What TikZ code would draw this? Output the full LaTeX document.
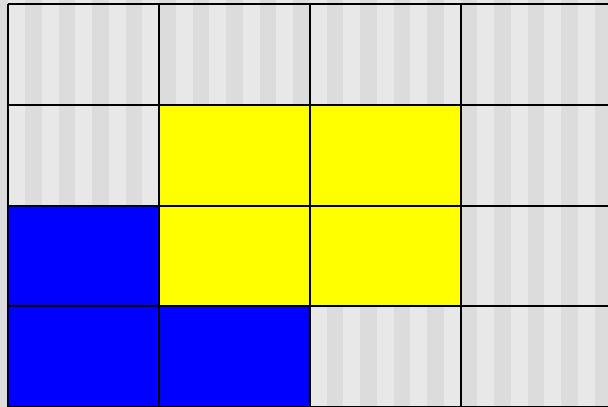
\documentclass[tikz,border=0pt]{standalone}
\usepackage{tikz}
\definecolor{stripelight}{HTML}{E8E8E8}
\definecolor{stripedark}{HTML}{DCDCDC}
\definecolor{hotyellow}{HTML}{FFFF00}
\definecolor{coldblue}{HTML}{0000FF}
\tikzset{
  gridline/.style={draw=black,line width=2pt},
  hotcell/.style={fill=hotyellow},
  coldcell/.style={fill=coldblue}
}
\begin{document}
\begin{tikzpicture}[x=1pt,y=-1pt]
  \clip (0,0) rectangle (608,407);
  % striped backdrop
  \fill[stripedark] (0,0) rectangle (608,407);
  \foreach \k in {0,...,18}
    \fill[stripelight] ({8.3+33.5*\k},0) rectangle ({25.05+33.5*\k},407);

  % filled cells: column/row indices from the top left
  \foreach \c/\r in {1/1,2/1,1/2,2/2}
    \fill[hotcell] ({8+151*\c},{4+100.75*\r}) rectangle ({8+151*(\c+1)},{4+100.75*(\r+1)});
  \foreach \c/\r in {0/2,0/3,1/3}
    \fill[coldcell] ({8+151*\c},{4+100.75*\r}) rectangle ({8+151*(\c+1)},{4+100.75*(\r+1)});

  % grid
  \foreach \j in {0,...,4}
    \draw[gridline] (8,{4+100.75*\j}) -- (612,{4+100.75*\j});
  \foreach \i in {0,...,4}
    \draw[gridline] ({8+151*\i},4) -- ({8+151*\i},407);
\end{tikzpicture}
\end{document}
